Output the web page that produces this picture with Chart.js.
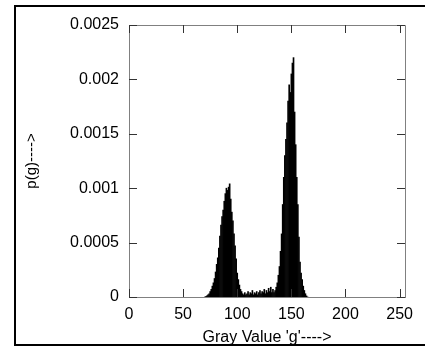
<!DOCTYPE html>
<html>
<head>
<meta charset="utf-8">
<script src="https://cdn.jsdelivr.net/npm/chart.js@4"></script>
<style>
    html, body { margin: 0; padding: 0; background: #fff; overflow: hidden; }
    #wrap { position: relative; width: 425px; height: 349px; }
    #frame {
        position: absolute; left: 14px; top: 5px; right: -6px; bottom: 3px;
        border: 2px solid #000; box-sizing: border-box; pointer-events: none;
    }
</style>
</head>
<body>
<div id="wrap">
    <canvas id="histogram-chart" width="425" height="349"></canvas>
    <div id="frame"></div>
</div>
<script>
// Gray levels that have non-zero counts, and their probabilities p(g)
const grayLevels = [
    70, 71, 72, 73, 74, 75, 76, 77, 78, 79,
    80, 81, 82, 83, 84, 85, 86, 87, 88, 89,
    90, 91, 92, 93, 94, 95, 96, 97, 98, 99,
    100, 101, 102, 103, 104, 105, 106, 107, 108, 109,
    110, 111, 112, 113, 114, 115, 116, 117, 118, 119,
    120, 121, 122, 123, 124, 125, 126, 127, 128, 129,
    130, 131, 132, 133, 134, 135, 136, 137, 138, 139,
    140, 141, 142, 143, 144, 145, 146, 147, 148, 149,
    150, 151, 152, 153, 154, 155, 156, 157, 158, 159,
    160, 161, 162, 163, 164, 165
];
const probabilities = [
    0, 0.000005, 0.00001, 0.00002, 0.00003, 0.00005, 0.00007, 0.0001, 0.00013, 0.00017,
    0.00023, 0.0003, 0.00036, 0.00045, 0.00056, 0.00066, 0.00074, 0.0008, 0.00088, 0.00095,
    0.001, 0.00098, 0.00101, 0.00104, 0.0009, 0.00078, 0.0007, 0.00058, 0.00047, 0.00035,
    0.00022, 0.00016, 0.00011, 0.00007, 0.00005, 0.00003, 0.00002, 0.00004, 0.00002, 0.00003,
    0.00005, 0.00002, 0.00004, 0.00003, 0.00006, 0.00002, 0.00004, 0.00003, 0.00005, 0.00002,
    0.00004, 0.00006, 0.00003, 0.00005, 0.00004, 0.00007, 0.00003, 0.00006, 0.00004, 0.00008,
    0.00005, 0.00009, 0.00004, 0.00007, 0.00004, 0.00006, 0.00009, 0.00013, 0.0002, 0.00028,
    0.00042, 0.00058, 0.00085, 0.0011, 0.0013, 0.00145, 0.0016, 0.0018, 0.00195, 0.00188,
    0.00205, 0.00215, 0.0022, 0.0017, 0.0014, 0.0011, 0.00085, 0.00055, 0.00032, 0.00022,
    0.00016, 0.0001, 0.00006, 0.00003, 0.00001, 0
];
const xTickValues = [0, 50, 100, 150, 200, 250];
const yTickValues = [0, 0.0005, 0.001, 0.0015, 0.002, 0.0025];

const xTitle = "Gray Value 'g'---->";
const yTitle = 'p(g)---->';

// Inward tick marks on all four sides, plus the top/right frame lines
const frameTicks = {
    id: 'frameTicks',
    afterDraw: function (chart) {
        const ctx = chart.ctx;
        const area = chart.chartArea;
        const xs = chart.scales.x;
        const ys = chart.scales.y;
        const len = 8;

        ctx.save();
        ctx.strokeStyle = '#808080';
        ctx.lineWidth = 1;
        ctx.beginPath();
        ctx.moveTo(area.left, area.top + 0.5);
        ctx.lineTo(area.right + 0.5, area.top + 0.5);
        ctx.lineTo(area.right + 0.5, area.bottom);
        ctx.stroke();

        ctx.strokeStyle = '#333';
        ctx.beginPath();
        xTickValues.forEach(function (v) {
            const px = Math.round(xs.getPixelForValue(v)) + 0.5;
            ctx.moveTo(px, area.bottom);
            ctx.lineTo(px, area.bottom - len);
            ctx.moveTo(px, area.top);
            ctx.lineTo(px, area.top + len);
        });
        yTickValues.forEach(function (v) {
            const py = Math.round(ys.getPixelForValue(v)) + 0.5;
            ctx.moveTo(area.left, py);
            ctx.lineTo(area.left + len, py);
            ctx.moveTo(area.right, py);
            ctx.lineTo(area.right - len, py);
        });
        ctx.stroke();
        ctx.restore();
    }
};

Chart.defaults.font.family = '"Liberation Sans", Arial, sans-serif';
Chart.defaults.font.size = 16;
Chart.defaults.color = '#000';

const ctx = document.getElementById('histogram-chart').getContext('2d');

new Chart(ctx, {
    type: 'bar',
    data: {
        datasets: [{
            label: 'p(g)',
            data: grayLevels.map(function (g, i) {
                return {x: g, y: probabilities[i]};
            }),
            backgroundColor: '#000',
            borderWidth: 0,
            barThickness: 1
        }]
    },
    options: {
        responsive: false,
        animation: false,
        layout: {
            padding: {top: 25, right: 20, bottom: 0, left: 0}
        },
        plugins: {
            legend: {display: false},
            tooltip: {enabled: false}
        },
        scales: {
            x: {
                type: 'linear',
                min: 0,
                max: 255,
                offset: false,
                afterBuildTicks: function (scale) {
                    scale.ticks = xTickValues.map(function (v) { return {value: v}; });
                },
                afterFit: function (scale) { scale.height = 52; },
                grid: {display: false, drawTicks: false, offset: false},
                border: {display: true, color: '#808080', width: 1},
                ticks: {padding: 8, maxRotation: 0},
                title: {
                    display: true,
                    text: xTitle,
                    padding: {top: 0, bottom: 2}
                }
            },
            y: {
                min: 0,
                max: 0.0025,
                afterBuildTicks: function (scale) {
                    scale.ticks = yTickValues.map(function (v) { return {value: v}; });
                },
                afterFit: function (scale) { scale.width = 129; },
                grid: {display: false, drawTicks: false},
                border: {display: true, color: '#808080', width: 1},
                ticks: {
                    padding: 10,
                    callback: function (v) { return String(+v.toFixed(4)); }
                },
                title: {
                    display: true,
                    text: yTitle,
                    font: {size: 15},
                    padding: {top: 23, bottom: 0}
                }
            }
        }
    },
    plugins: [frameTicks]
});
</script>
</body>
</html>
